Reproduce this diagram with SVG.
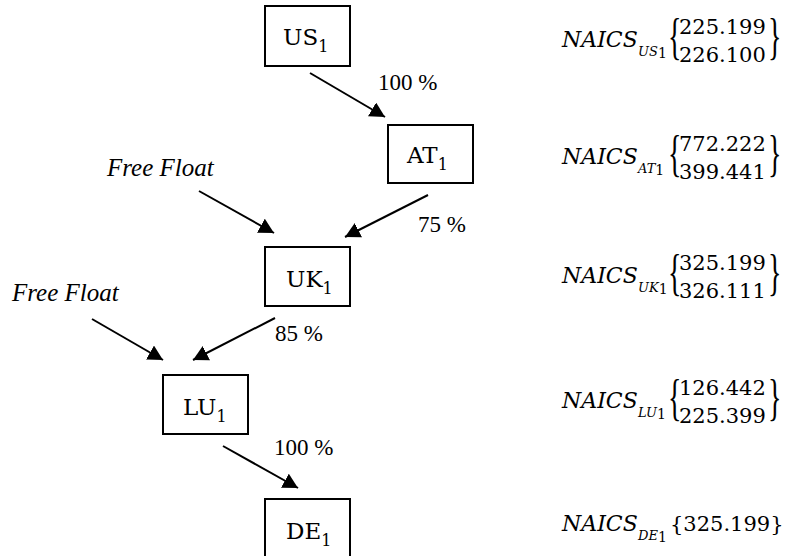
<svg xmlns="http://www.w3.org/2000/svg" width="787" height="556" viewBox="0 0 787 556">
<style>
.box{fill:#fff;stroke:#000;stroke-width:2}
.lbl{font-family:"DejaVu Serif",serif;font-size:23px;fill:#000}
.sub{font-size:16px}
.pct{font-family:"Liberation Serif","Times New Roman",serif;font-size:23px;fill:#000}
.ff{font-family:"Liberation Serif","Times New Roman",serif;font-size:25px;font-style:italic;fill:#000}
.na{font-family:"DejaVu Serif",serif;font-size:22px;font-style:italic;fill:#000}
.nsub{font-family:"DejaVu Serif",serif;font-size:13px;font-style:italic;fill:#000}
.none{font-size:14px;font-style:normal}
.num{font-family:"DejaVu Serif",serif;font-size:21px;fill:#000}
.br{font-family:"Liberation Serif","Times New Roman",serif;font-size:28px;fill:#000}
.edge{stroke:#000;stroke-width:2;fill:none;marker-end:url(#ah)}
</style>
<defs>
<marker id="ah" markerUnits="userSpaceOnUse" viewBox="0 -8 16 16" refX="15" refY="0" markerWidth="16" markerHeight="16" orient="auto">
<path d="M0,-8 L15,0 L0,8 z" fill="#000"/>
</marker>
</defs>
<rect width="787" height="556" fill="#fff"/>

<g id="connectors">
<line class="edge" x1="310" y1="73" x2="385" y2="117"/>
<line class="edge" x1="199" y1="191" x2="274" y2="233"/>
<line class="edge" x1="428" y1="195" x2="345" y2="237"/>
<line class="edge" x1="92" y1="319" x2="163" y2="360"/>
<line class="edge" x1="275" y1="318" x2="193" y2="360"/>
<line class="edge" x1="223" y1="446" x2="298" y2="488"/>
<text class="pct" x="378" y="90">100 %</text>
<text class="pct" x="418" y="232">75 %</text>
<text class="pct" x="275" y="341">85 %</text>
<text class="pct" x="274" y="455">100 %</text>
<text class="ff" x="107" y="176">Free Float</text>
<text class="ff" x="12" y="301">Free Float</text>
</g>

<g id="US1">
<rect class="box" x="265" y="6" width="85" height="60"/>
<text class="lbl" x="283" y="45">US<tspan class="sub" dy="7">1</tspan></text>
</g>
<g id="AT1">
<rect class="box" x="388" y="125" width="85" height="58"/>
<text class="lbl" x="407" y="163">AT<tspan class="sub" dy="7">1</tspan></text>
</g>
<g id="UK1">
<rect class="box" x="265" y="247" width="85" height="59"/>
<text class="lbl" x="286" y="287">UK<tspan class="sub" dy="7">1</tspan></text>
</g>
<g id="LU1">
<rect class="box" x="163" y="375" width="85" height="59"/>
<text class="lbl" x="183" y="415">LU<tspan class="sub" dy="7">1</tspan></text>
</g>
<g id="DE1">
<rect class="box" x="265" y="499" width="85" height="62"/>
<text class="lbl" x="286" y="539">DE<tspan class="sub" dy="7">1</tspan></text>
</g>

<g id="naics-US1">
<text class="na" x="562" y="47">NAICS</text>
<text class="nsub" x="638" y="56">US<tspan class="none" dy="2">1</tspan></text>
<text class="br" transform="translate(668,53) scale(1,1.8)">{</text>
<text class="num" x="679" y="34">225.199</text>
<text class="num" x="679" y="62">226.100</text>
<text class="br" transform="translate(768,53) scale(1,1.8)">}</text>
</g>
<g id="naics-AT1">
<text class="na" x="562" y="164">NAICS</text>
<text class="nsub" x="638" y="173">AT<tspan class="none" dy="2">1</tspan></text>
<text class="br" transform="translate(668,170) scale(1,1.8)">{</text>
<text class="num" x="679" y="151">772.222</text>
<text class="num" x="679" y="179">399.441</text>
<text class="br" transform="translate(768,170) scale(1,1.8)">}</text>
</g>
<g id="naics-UK1">
<text class="na" x="562" y="283">NAICS</text>
<text class="nsub" x="638" y="292">UK<tspan class="none" dy="2">1</tspan></text>
<text class="br" transform="translate(668,289) scale(1,1.8)">{</text>
<text class="num" x="679" y="270">325.199</text>
<text class="num" x="679" y="298">326.111</text>
<text class="br" transform="translate(768,289) scale(1,1.8)">}</text>
</g>
<g id="naics-LU1">
<text class="na" x="562" y="408">NAICS</text>
<text class="nsub" x="638" y="417">LU<tspan class="none" dy="2">1</tspan></text>
<text class="br" transform="translate(668,414) scale(1,1.8)">{</text>
<text class="num" x="679" y="395">126.442</text>
<text class="num" x="679" y="423">225.399</text>
<text class="br" transform="translate(768,414) scale(1,1.8)">}</text>
</g>
<g id="naics-DE1">
<text class="na" x="562" y="531">NAICS</text>
<text class="nsub" x="638" y="540">DE<tspan class="none" dy="2">1</tspan></text>
<text class="num" x="670" y="531">{325.199}</text>
</g>
</svg>
